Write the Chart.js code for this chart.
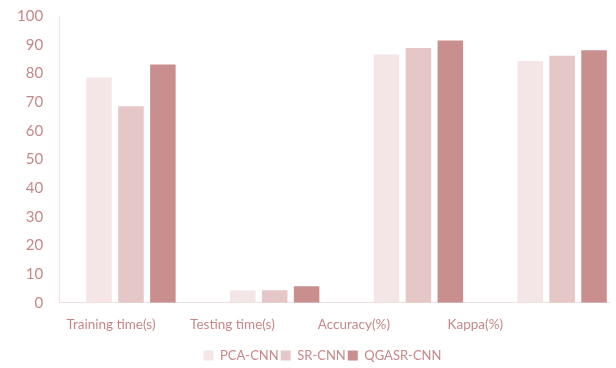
<!DOCTYPE html>
<html>
<head>
<meta charset="utf-8">
<script src="https://cdn.jsdelivr.net/npm/chart.js@4/dist/chart.umd.min.js"></script>
<style>
  html, body { margin: 0; padding: 0; background: #ffffff; }
  /* The plot runs past the right edge; the frame trims it there. */
  #wrap { width: 610px; height: 368px; overflow: hidden; }
</style>
</head>
<body>
<div id="wrap"><canvas id="c" width="640" height="368"></canvas></div>
<script>
const categories = ['Training time(s)', 'Testing time(s)', 'Accuracy(%)', 'Kappa(%)'];
const pcaCnn   = [78.6, 4.3, 86.6, 84.3];
const srCnn    = [68.5, 4.4, 88.8, 86.1];
const qgasrCnn = [83.1, 5.8, 91.5, 88.1];
const yTicks = [0, 10, 20, 30, 40, 50, 60, 70, 80, 90, 100];

const textColor = '#c78889';
const axisColor = '#f1dede';

new Chart(document.getElementById('c'), {
  type: 'bar',
  data: {
    labels: categories,
    datasets: [
      { label: 'PCA-CNN',   data: pcaCnn,   backgroundColor: '#f4e6e6' },
      { label: 'SR-CNN',    data: srCnn,    backgroundColor: '#e5c7c8' },
      { label: 'QGASR-CNN', data: qgasrCnn, backgroundColor: '#c98f8f' }
    ]
  },
  options: {
    responsive: false,
    animation: false,
    layout: { padding: { left: 11, right: 6, top: 16, bottom: -4 } },
    datasets: { bar: { barPercentage: 0.8, categoryPercentage: 0.666 } },
    plugins: {
      legend: {
        position: 'bottom',
        labels: {
          color: textColor,
          font: { family: 'Lato', size: 13 },
          boxWidth: 10,
          boxHeight: 10,
          padding: 2
        }
      },
      tooltip: { enabled: false }
    },
    scales: {
      x: {
        grid: { display: false, drawTicks: false },
        border: { color: axisColor, width: 1 },
        ticks: { display: false }
      },
      // Category names sit on their own evenly spaced axis under the bars.
      xNames: {
        type: 'linear',
        position: 'bottom',
        offset: false,
        beginAtZero: false,
        min: -0.427,
        max: 4.306,
        afterBuildTicks: (axis) => { axis.ticks = categories.map((_, i) => ({ value: i })); },
        grid: { display: false, drawTicks: false },
        border: { display: false },
        ticks: {
          color: textColor,
          font: { family: 'Lato', size: 13.5 },
          padding: 14,
          autoSkip: false,
          maxRotation: 0,
          callback: (v) => categories[v]
        }
      },
      y: {
        min: 0,
        max: 100,
        afterBuildTicks: (axis) => { axis.ticks = yTicks.map(v => ({ value: v })); },
        grid: { display: false, drawTicks: true, tickLength: 10, tickColor: 'rgba(0,0,0,0)' },
        border: { color: axisColor, width: 1 },
        ticks: { color: textColor, font: { family: 'Lato', size: 15 }, padding: 6 }
      }
    }
  }
});
</script>
</body>
</html>
